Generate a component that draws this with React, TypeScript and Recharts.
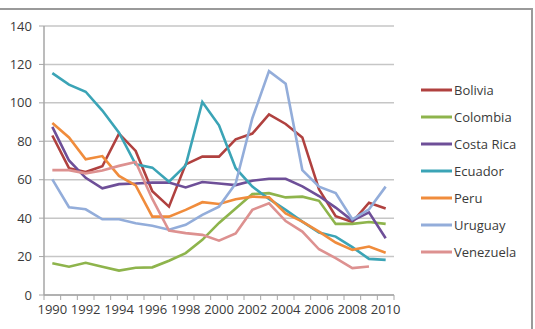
import { LineChart, Line, XAxis, YAxis, CartesianGrid } from "recharts";

const years = [
  "1990", "1991", "1992", "1993", "1994", "1995", "1996", "1997", "1998", "1999", "2000",
  "2001", "2002", "2003", "2004", "2005", "2006", "2007", "2008", "2009", "2010",
];

const bolivia = [83, 66, 64, 67, 84, 75, 54, 46, 68, 72, 72, 81, 84, 94, 89, 82, 55, 41, 38, 48, 45];
const colombia = [16.5, 14.7, 16.8, 14.7, 12.7, 14.2, 14.4, 17.8, 21.8, 28.7, 37.5, 45, 52.5, 53, 50.8, 51.2, 49, 37, 37, 38, 37];
const costaRica = [87.5, 70, 61, 55.5, 57.7, 58, 58.5, 58.5, 56, 58.8, 58, 57.2, 59.5, 60.5, 60.5, 56.5, 51.5, 45.5, 38.7, 43, 29.5];
const ecuador = [115.5, 109.5, 105.8, 96, 84.5, 68, 66.3, 59, 67.5, 100.5, 88.3, 66, 56.4, 50, 44.3, 38.2, 32.5, 30.4, 24.9, 18.8, 18.3];
const peru = [89.5, 82, 70.6, 72.3, 62, 57, 40.8, 40.8, 44.3, 48.3, 47.4, 49.8, 51.2, 50.8, 42.5, 38.2, 33, 27.3, 23.5, 25.2, 22];
const uruguay = [60.2, 45.7, 44.6, 39.4, 39.4, 37.3, 36, 34, 36.5, 41.7, 46, 58, 92, 116.5, 110, 65, 56.4, 53, 39.4, 44.6, 56.4];
const venezuela = [65, 65, 63.3, 64.8, 67.2, 69.2, 50, 33.5, 32.2, 31.3, 28.3, 32, 44.3, 47.7, 38.5, 33, 23.8, 19.2, 14, 14.8, null];

const yTicks = [0, 20, 40, 60, 80, 100, 120, 140];

const series = [
  { key: "Bolivia", values: bolivia, color: "#B0413F" },
  { key: "Colombia", values: colombia, color: "#8EB44C" },
  { key: "Costa Rica", values: costaRica, color: "#6E4F98" },
  { key: "Ecuador", values: ecuador, color: "#3BA4B6" },
  { key: "Peru", values: peru, color: "#F08C3C" },
  { key: "Uruguay", values: uruguay, color: "#93ADDA" },
  { key: "Venezuela", values: venezuela, color: "#DD9190" },
];

const data = years.map((year, i) => {
  const row: Record<string, string | number | null> = { year };
  series.forEach((s) => {
    row[s.key] = s.values[i];
  });
  return row;
});

const W = 535;
const H = 329;
const margin = { top: 26, right: 141, bottom: 12, left: 0 };
const yAxisWidth = 44;
const plotWidth = W - margin.left - margin.right - yAxisWidth;
const band = plotWidth / years.length;

const textColor = "#3a3a3a";
const font = "'Open Sans', sans-serif";

// category ticks sit between points, labels only on even years
const YearTick = (props: any) => {
  const { x, y, payload, index } = props;
  const half = band / 2;
  const showLabel = index % 2 === 0;
  return (
    <g>
      <line x1={x - half} x2={x - half} y1={y} y2={y + 5} stroke="#A6A6A6" strokeWidth={1} />
      {index === years.length - 1 && (
        <line x1={x + half} x2={x + half} y1={y} y2={y + 5} stroke="#A6A6A6" strokeWidth={1} />
      )}
      {showLabel && (
        <text x={x} y={y + 19} textAnchor="middle" fill={textColor} fontSize={13} fontFamily={font}>
          {payload.value}
        </text>
      )}
    </g>
  );
};

const LegendList = () => (
  <div
    style={{
      position: "absolute",
      left: 421,
      top: 76,
      width: 110,
      fontFamily: font,
      fontSize: 13,
      color: textColor,
    }}
  >
    {series.map((s) => (
      <div key={s.key} style={{ display: "flex", alignItems: "center", height: 27 }}>
        <svg width={31} height={6} style={{ marginRight: 2 }}>
          <line x1={0} x2={31} y1={3} y2={3} stroke={s.color} strokeWidth={3} />
        </svg>
        <span>{s.key}</span>
      </div>
    ))}
  </div>
);

export default function App() {
  return (
    <div style={{ position: "absolute", left: 0, top: 0, width: W, height: H, background: "#fff", overflow: "hidden" }}>
      <div
        style={{
          position: "absolute",
          left: -4,
          top: 8,
          width: 535,
          height: 340,
          borderTop: "2px solid #9A9A9A",
          borderRight: "2px solid #9A9A9A",
        }}
      />
      <LineChart width={W} height={H} data={data} margin={margin} style={{ position: "absolute", left: 0, top: 0 }}>
        <CartesianGrid vertical={false} stroke="#C6C6C6" strokeWidth={1.5} />
        <XAxis
          dataKey="year"
          interval={0}
          padding={{ left: band / 2, right: band / 2 }}
          tick={<YearTick />}
          tickLine={false}
          tickSize={0}
          tickMargin={0}
          axisLine={{ stroke: "#A6A6A6", strokeWidth: 1.5 }}
          height={22}
        />
        <YAxis
          domain={[0, 140]}
          ticks={yTicks}
          width={yAxisWidth}
          tickSize={5}
          tickMargin={7}
          tickLine={{ stroke: "#A6A6A6" }}
          axisLine={{ stroke: "#A6A6A6", strokeWidth: 1.5 }}
          tick={{ fill: textColor, fontSize: 13, fontFamily: font }}
        />
        {series.map((s) => (
          <Line
            key={s.key}
            dataKey={s.key}
            stroke={s.color}
            strokeWidth={2.6}
            dot={false}
            isAnimationActive={false}
          />
        ))}
      </LineChart>
      <LegendList />
    </div>
  );
}
